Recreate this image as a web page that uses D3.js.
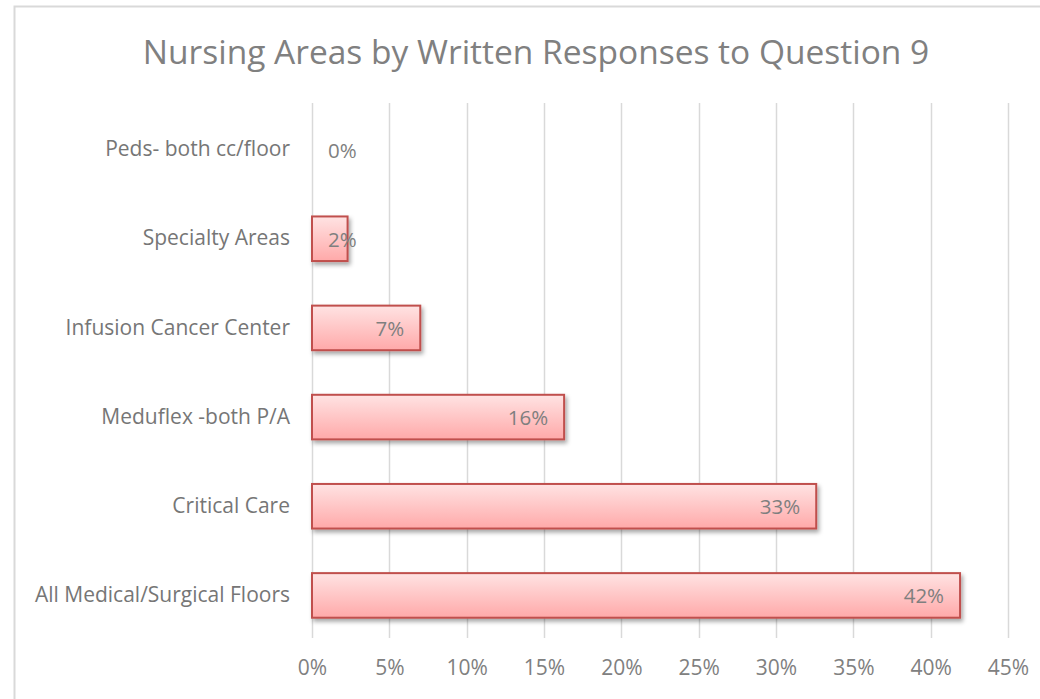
<!DOCTYPE html>
<html>
<head>
<meta charset="utf-8">
<script src="https://cdn.jsdelivr.net/npm/d3@7"></script>
<style>
  html, body { margin: 0; padding: 0; background: #fff; }
  svg { display: block; font-family: "Open Sans", sans-serif; }
</style>
</head>
<body>
<div id="chart"></div>
<script>
// chart values, top to bottom as drawn
const categories = [
  'Peds- both cc/floor',
  'Specialty Areas',
  'Infusion Cancer Center',
  'Meduflex -both P/A',
  'Critical Care',
  'All Medical/Surgical Floors',
];
const shares = [0, 0.023, 0.07, 0.163, 0.326, 0.419];
const tickValues = [0, 0.05, 0.10, 0.15, 0.20, 0.25, 0.30, 0.35, 0.40, 0.45];
const title = 'Nursing Areas by Written Responses to Question 9';

const W = 1040, H = 699;
const plot = { left: 312, right: 1008, top: 105, bottom: 640 };

const svg = d3.select('#chart').append('svg')
  .attr('width', W)
  .attr('height', H);

const defs = svg.append('defs');
const grad = defs.append('linearGradient')
  .attr('id', 'barFill')
  .attr('x1', 0).attr('y1', 0).attr('x2', 0).attr('y2', 1);
grad.append('stop').attr('offset', '0%').attr('stop-color', '#ffe3e3');
grad.append('stop').attr('offset', '100%').attr('stop-color', '#ffa9a9');

const shadow = defs.append('filter')
  .attr('id', 'shadow')
  .attr('x', '-10%').attr('y', '-30%')
  .attr('width', '130%').attr('height', '180%');
shadow.append('feDropShadow')
  .attr('dx', 2).attr('dy', 3)
  .attr('stdDeviation', 2)
  .attr('flood-color', '#000')
  .attr('flood-opacity', 0.35);

// chart frame
svg.append('rect')
  .attr('x', 14.5).attr('y', 6.5)
  .attr('width', W).attr('height', H)
  .attr('fill', 'none')
  .attr('stroke', '#d9d9d9')
  .attr('stroke-width', 2);

svg.append('text')
  .attr('x', 536).attr('y', 51)
  .attr('text-anchor', 'middle')
  .attr('dominant-baseline', 'central')
  .attr('fill', '#808080')
  .attr('font-size', 33.5)
  .text(title);

const x = d3.scaleLinear()
  .domain([0, 0.45])
  .range([plot.left, plot.right]);

const y = d3.scaleBand()
  .domain(categories)
  .range([plot.top, plot.bottom])
  .paddingInner(0.5)
  .paddingOuter(0.25);

// grid
svg.append('g')
  .selectAll('line')
  .data(tickValues)
  .join('line')
    .attr('x1', d => Math.round(x(d)) + 0.5)
    .attr('x2', d => Math.round(x(d)) + 0.5)
    .attr('y1', plot.top - 2)
    .attr('y2', plot.bottom - 2)
    .attr('stroke', '#d9d9d9')
    .attr('stroke-width', 1.5);

// x axis labels
const xAxis = svg.append('g')
  .attr('transform', `translate(0,${plot.bottom + 28})`)
  .call(d3.axisBottom(x).tickValues(tickValues).tickFormat(d3.format('.0%')).tickSize(0));
xAxis.select('.domain').remove();
xAxis.selectAll('text')
  .attr('fill', '#808080')
  .attr('font-size', 21)
  .attr('font-family', '"Open Sans", sans-serif')
  .attr('dy', '0.35em')
  .attr('y', 0);

// y axis labels
const yAxis = svg.append('g')
  .attr('transform', `translate(${plot.left - 22},0)`)
  .call(d3.axisLeft(y).tickSize(0));
yAxis.select('.domain').remove();
yAxis.selectAll('text')
  .attr('fill', '#767676')
  .attr('font-size', 21)
  .attr('font-family', '"Open Sans", sans-serif')
  .attr('x', 0);

// bars
svg.append('g')
  .selectAll('rect')
  .data(shares.map((v, i) => ({ cat: categories[i], v })).filter(d => d.v > 0))
  .join('rect')
    .attr('x', x(0))
    .attr('y', d => y(d.cat))
    .attr('width', d => x(d.v) - x(0))
    .attr('height', y.bandwidth())
    .attr('fill', 'url(#barFill)')
    .attr('stroke', '#c0504d')
    .attr('stroke-width', 2)
    .attr('filter', 'url(#shadow)');

// data labels, inside end, kept off the axis for short bars
const fmt = d3.format('.0%');
const labels = svg.append('g')
  .selectAll('text')
  .data(shares.map((v, i) => ({ cat: categories[i], v })))
  .join('text')
    .attr('y', d => y(d.cat) + y.bandwidth() / 2)
    .attr('dominant-baseline', 'central')
    .attr('text-anchor', 'end')
    .attr('fill', '#7f7f7f')
    .attr('font-size', 20.5)
    .text(d => fmt(d.v));
labels.attr('x', function (d) {
  const w = this.getComputedTextLength();
  return Math.max(x(d.v) - 16, x(0) + 16 + w);
});
</script>
</body>
</html>
